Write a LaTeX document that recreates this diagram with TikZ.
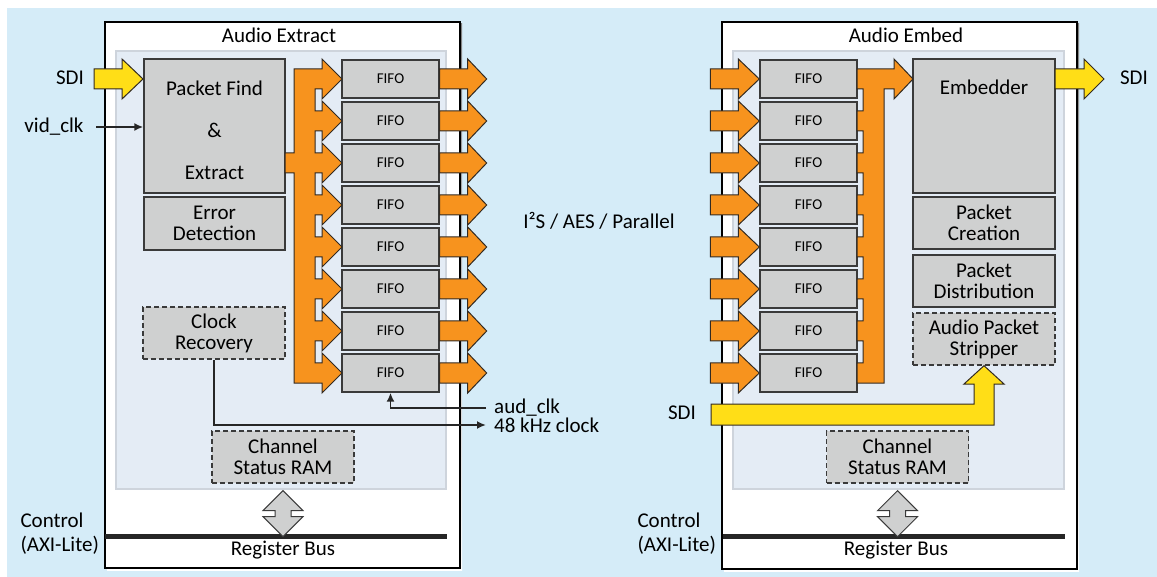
\documentclass[tikz,border=0pt]{standalone}
\usepackage{fontspec}
\setmainfont{Carlito}
\usetikzlibrary{positioning,calc,arrows.meta}
\definecolor{bgblue}{RGB}{213,236,248}
\definecolor{panelfill}{RGB}{228,236,245}
\definecolor{panelline}{RGB}{206,212,220}
\definecolor{boxgray}{RGB}{207,208,208}
\definecolor{boxline}{RGB}{58,58,58}
\definecolor{orng}{RGB}{247,147,30}
\definecolor{yel}{RGB}{255,222,23}
\definecolor{arrline}{RGB}{50,42,34}
\definecolor{shade}{RGB}{120,130,140}

\begin{document}
\begin{tikzpicture}[
  x=1pt, y=-1pt,
  font=\fontsize{21}{21}\selectfont,
  blk/.style={draw=black, fill=white, line width=1.5pt},
  panel/.style={draw=panelline, fill=panelfill, line width=1.2pt},
  box/.style={draw=boxline, fill=boxgray, line width=1.4pt, align=center,
    inner sep=0pt, minimum width=142pt, minimum height=52pt},
  dbox/.style={box, dash pattern=on 5pt off 3pt},
  fifo/.style={box, minimum width=97pt, minimum height=38pt,
    font=\fontsize{15}{16}\selectfont},
  fat/.style={draw=arrline, line width=1pt, line join=miter},
  wire/.style={-{Latex[length=9pt,width=8pt]}, draw=black!85, line width=1.8pt},
  lbl/.style={anchor=west, inner xsep=8pt, inner ysep=0pt},
  ctl/.style={anchor=west, align=left, font=\fontsize{21}{24}\selectfont},
  bus/.style={line width=5pt, draw=black!85},
  dbl/.style={draw=boxline, fill=boxgray, line width=1pt, line join=miter}
  ]
  \useasboundingbox (0,0) rectangle (1157,577);
  \fill[bgblue] (7,8) rectangle (1157,577);

  \fill[shade] (107,24) rectangle (462,570);
  \draw[blk] (105,22) rectangle (460,568);
  \draw[panel] (116,51) rectangle (446,489);
  \fill[shade] (724,24) rectangle (1079,571);
  \draw[blk] (722,22) rectangle (1077,569);
  \draw[panel] (733,51) rectangle (1064,489);

  \draw[bus] (105,536) -- (447,536);
  \draw[bus] (723,536) -- (1065,536);

  \node (titL) at (279,35) {Audio Extract};
  \node (titR) at (906,35) {Audio Embed};

  \node[box, minimum width=141pt, minimum height=134pt] (pfind) at (214.5,126) {};
  \path (pfind) ++(0,4) node[align=center, font=\fontsize{21}{42}\selectfont] (pfindt)
    {Packet Find\\\&\\Extract};
  \node[box, minimum width=141pt, minimum height=53pt] (errdet) at (214.5,223.5) {Error\\Detection};
  \node[dbox] (clkrec) at (214,333) {Clock\\Recovery};
  \node[dbox] (csrL) at (283,457) {Channel\\Status RAM};
  \foreach \c [count=\i] in {79,121,...,373}
    \node[fifo] (fe\i) at (390.5,\c) {FIFO};

  \foreach \c [count=\i] in {79,121,...,373}
    \node[fifo] (fm\i) at (808.5,\c) {FIFO};
  \node[box, minimum height=134pt] (emb) at (984,126) {};
  \path (emb.north) ++(0,29) node (embt) {Embedder};
  \node[box] (pcre) at (984,223) {Packet\\Creation};
  \node[box] (pdist) at (984,281) {Packet\\Distribution};
  \node[dbox] (strip) at (984,339) {Audio Packet\\Stripper};
  \node[dbox] (csrR) at (897.5,457) {Channel\\Status RAM};

  \node (sdiL) at (70,78) {SDI};
  \node (vid) at (54,127) {vid\_clk};
  \node[lbl] (aud) at (486,408) {aud\_clk};
  \node[lbl] (khz) at (486,425) {48 kHz clock};
  \node (iis) at (599,221) {I²S / AES / Parallel};
  \node (sdiR) at (682,413) {SDI};
  \node (sdiO) at (1134,78) {SDI};
  \node[ctl] (ctlL) at (17,534) {Control\\(AXI-Lite)};
  \node[ctl] (ctlR) at (634,534) {Control\\(AXI-Lite)};
  \node (rbL) at (283,550) {Register Bus};
  \node (rbR) at (896,550) {Register Bus};

  \draw[fat, fill=orng] (285,153) -- (294,153) -- (294,69) -- (322,69)
    \foreach \c in {79,121,...,331} {
      -- (322,\c-20) -- (342,\c) -- (322,\c+20) -- (322,\c+10)
      -- (315,\c+10) -- (315,\c+32) -- (322,\c+32) }
    -- (322,353) -- (342,373) -- (322,393) -- (322,383)
    -- (294,383) -- (294,173) -- (285,173) -- cycle;
  \foreach \i in {1,...,8}
    \draw[fat, fill=orng] (fe\i.east) ++(0,-10) -- ++(28,0) -- ++(0,-10)
      -- ++(19,20) -- ++(-19,20) -- ++(0,-10) -- ++(-28,0) -- cycle;

  \foreach \i in {1,...,8}
    \draw[fat, fill=orng] (fm\i.west) ++(-49,-10) -- ++(28,0) -- ++(0,-10)
      -- ++(21,20) -- ++(-21,20) -- ++(0,-10) -- ++(-28,0) -- cycle;
  \draw[fat, fill=orng] (857,69) -- (894,69) -- (894,59) -- (913,79)
    -- (894,99) -- (894,89) -- (884,89) -- (884,383) -- (857,383)
    -- (857,363) -- (863,363)
    \foreach \c in {331,289,...,121} {
      -- (863,\c+10) -- (857,\c+10) -- (857,\c-10) -- (863,\c-10) }
    -- (863,89) -- (857,89) -- cycle;

  \draw[fat, fill=yel] (94,69) -- (122,69) -- (122,59) -- (143,79)
    -- (122,99) -- (122,89) -- (94,89) -- cycle;
  \draw[fat, fill=yel] (1055,69) -- (1084,69) -- (1084,59) -- (1104,79)
    -- (1084,99) -- (1084,89) -- (1055,89) -- cycle;
  \draw[fat, fill=yel] (711,404) -- (974,404) -- (974,384) -- (964,384)
    -- (strip.south) -- (1004,384) -- (994,384) -- (994,425) -- (711,425) -- cycle;

  \foreach \n in {csrL,csrR}
    \draw[dbl] (\n.south) ++(0,7) -- ++(20,20) -- ++(-12,0) -- ++(0,6)
      -- ++(12,0) -- ++(-20,20) -- ++(-20,-20) -- ++(12,0) -- ++(0,-6)
      -- ++(-12,0) -- cycle;

  \draw[wire, shorten <=9pt] (vid.east) -- (vid.east -| pfind.west);
  \draw[wire] (clkrec.south) |- (khz.west);
  \draw[wire] (aud.west) -| (fe8.south);
\end{tikzpicture}
\end{document}
